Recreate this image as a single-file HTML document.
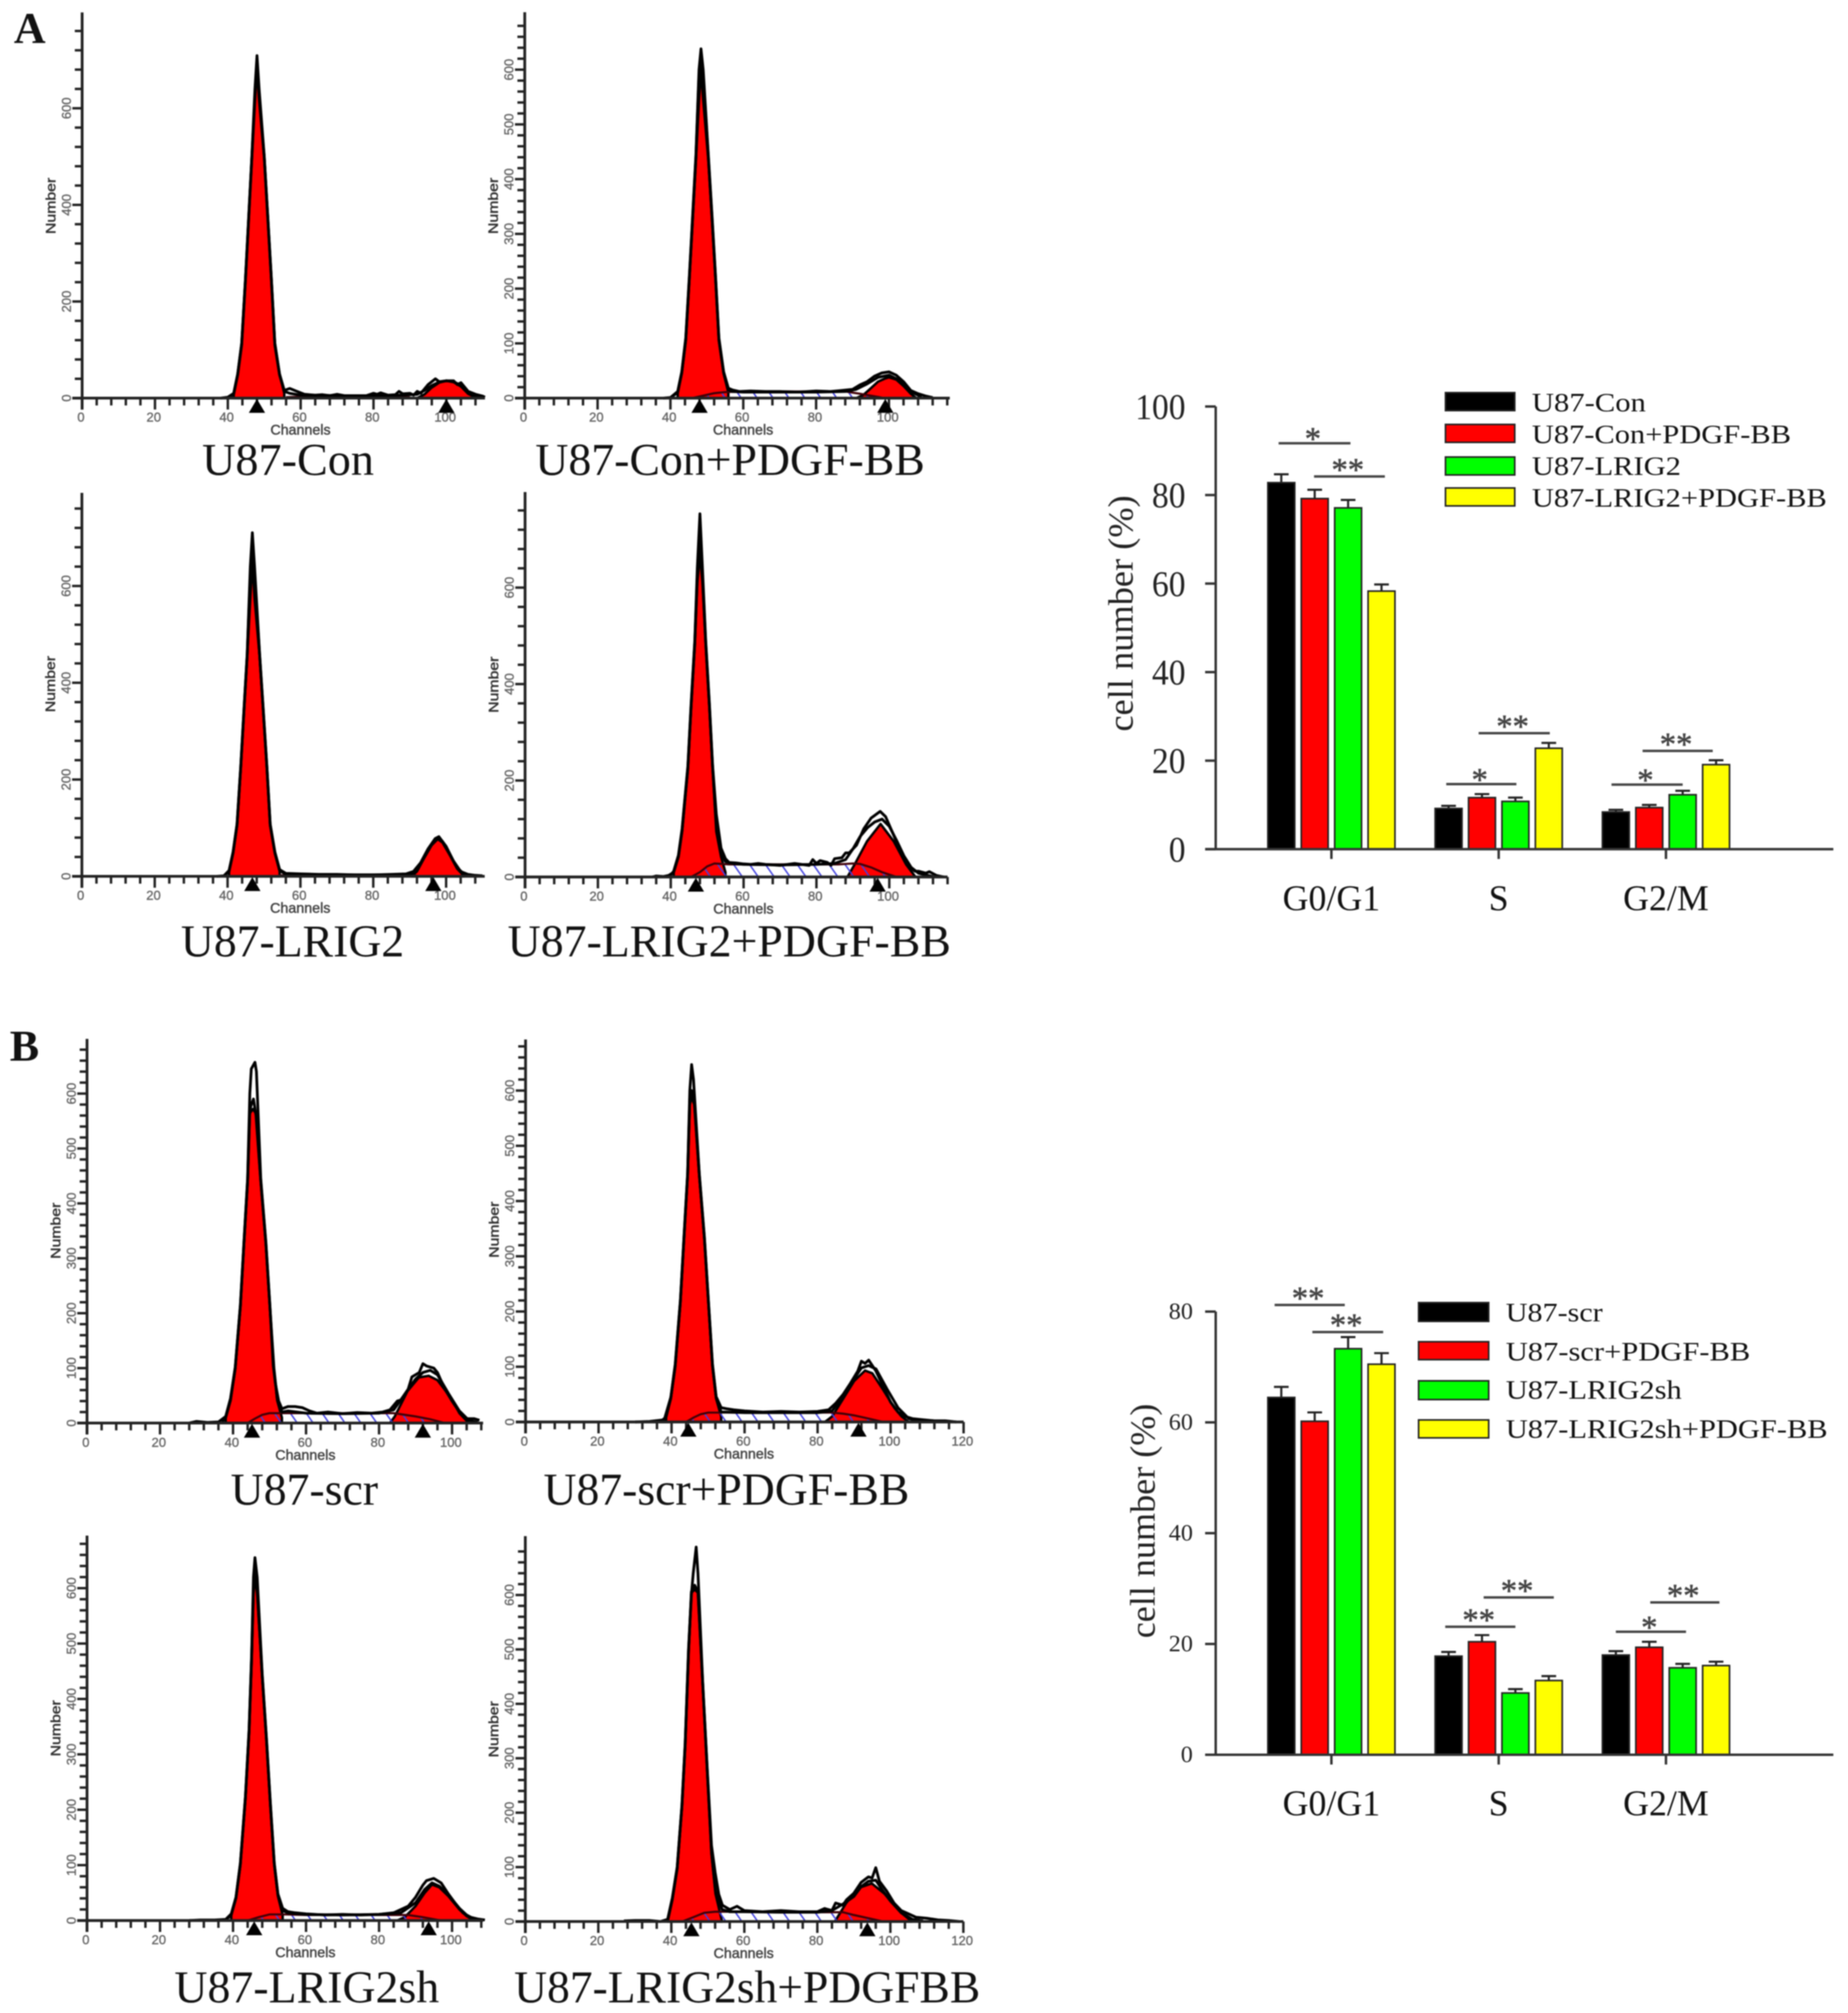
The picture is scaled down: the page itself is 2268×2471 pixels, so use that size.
<!DOCTYPE html>
<html lang="en">
<head>
<meta charset="utf-8">
<title>U87 cell cycle flow cytometry histograms and bar charts</title>
<style>
html,body{margin:0;padding:0;background:#fff;}
#figure{display:block;width:2268px;height:2471px;background:#fff;filter:blur(0.7px);}
.serif{font-family:"Liberation Serif",serif;fill:#111;}
</style>
</head>
<body>
<svg id="figure" width="2268" height="2471" viewBox="0 0 2268 2471">
  <defs>
    <pattern id="hatch" width="16" height="16" patternUnits="userSpaceOnUse" patternTransform="rotate(-35)">
      <line x1="0" y1="0" x2="0" y2="16" stroke="#4040e0" stroke-width="3.6"></line>
    </pattern>
  </defs>
  <rect x="0" y="0" width="2268" height="2471" fill="#fff"></rect>

  <text class="serif" x="17" y="53" font-size="54" font-weight="bold">A</text>
  <text class="serif" x="12" y="1302" font-size="54" font-weight="bold">B</text>

  <text class="serif" x="248" y="583" font-size="56" textLength="211" lengthAdjust="spacingAndGlyphs">U87-Con</text>
  <text class="serif" x="657" y="583" font-size="56" textLength="478" lengthAdjust="spacingAndGlyphs">U87-Con+PDGF-BB</text>
  <text class="serif" x="222" y="1174" font-size="56" textLength="274" lengthAdjust="spacingAndGlyphs">U87-LRIG2</text>
  <text class="serif" x="623" y="1174" font-size="56" textLength="544" lengthAdjust="spacingAndGlyphs">U87-LRIG2+PDGF-BB</text>
  <text class="serif" x="283" y="1847" font-size="56" textLength="181" lengthAdjust="spacingAndGlyphs">U87-scr</text>
  <text class="serif" x="667" y="1847" font-size="56" textLength="449" lengthAdjust="spacingAndGlyphs">U87-scr+PDGF-BB</text>
  <text class="serif" x="214" y="2458" font-size="56" textLength="325" lengthAdjust="spacingAndGlyphs">U87-LRIG2sh</text>
  <text class="serif" x="631" y="2458" font-size="56" textLength="572" lengthAdjust="spacingAndGlyphs">U87-LRIG2sh+PDGFBB</text>

  <g>
    <g>
      <rect x="1774" y="482" width="85" height="22" fill="#000" stroke="#222" stroke-width="2"></rect>
      <text class="serif" x="1880" y="505" font-size="33" textLength="140" lengthAdjust="spacingAndGlyphs">U87-Con</text>
    </g>
    <g>
      <rect x="1774" y="521" width="85" height="22" fill="#ff0000" stroke="#222" stroke-width="2"></rect>
      <text class="serif" x="1880" y="544" font-size="33" textLength="318" lengthAdjust="spacingAndGlyphs">U87-Con+PDGF-BB</text>
    </g>
    <g>
      <rect x="1774" y="561" width="85" height="22" fill="#00ff00" stroke="#222" stroke-width="2"></rect>
      <text class="serif" x="1880" y="583" font-size="33" textLength="183" lengthAdjust="spacingAndGlyphs">U87-LRIG2</text>
    </g>
    <g>
      <rect x="1774" y="599" width="85" height="22" fill="#ffff00" stroke="#222" stroke-width="2"></rect>
      <text class="serif" x="1880" y="622" font-size="33" textLength="362" lengthAdjust="spacingAndGlyphs">U87-LRIG2+PDGF-BB</text>
    </g>
  </g>

  <g>
    <g>
      <rect x="1741" y="1599" width="86" height="23" fill="#000" stroke="#222" stroke-width="2"></rect>
      <text class="serif" x="1848" y="1622" font-size="33" textLength="119" lengthAdjust="spacingAndGlyphs">U87-scr</text>
    </g>
    <g>
      <rect x="1741" y="1647" width="86" height="22" fill="#ff0000" stroke="#222" stroke-width="2"></rect>
      <text class="serif" x="1848" y="1670" font-size="33" textLength="300" lengthAdjust="spacingAndGlyphs">U87-scr+PDGF-BB</text>
    </g>
    <g>
      <rect x="1741" y="1695" width="86" height="23" fill="#00ff00" stroke="#222" stroke-width="2"></rect>
      <text class="serif" x="1848" y="1717" font-size="33" textLength="216" lengthAdjust="spacingAndGlyphs">U87-LRIG2sh</text>
    </g>
    <g>
      <rect x="1741" y="1743" width="86" height="22" fill="#ffff00" stroke="#222" stroke-width="2"></rect>
      <text class="serif" x="1848" y="1765" font-size="33" textLength="395" lengthAdjust="spacingAndGlyphs">U87-LRIG2sh+PDGF-BB</text>
    </g>
  </g>
</svg>

<script>
/* ---------- histogram data (channel, count) ---------- */
const a1G1Ch=[41.6,42.7,43.8,44.8,45.7,46.6,47.45,48,48.6,50,51,52,52.9,54.2,55.5];
const a1G1=[10,50,114,243,372,501,630,690,630,501,372,243,114,50,10];
const a1G2Ch=[92,94,96,98,100,102,104,106,108.4];
const a1G2=[0,8,22,32,36,33,24,9,0];
const a1SCh=[56,60,70,80,90];
const a1S=[2,3,3,3,2];
const a1RawCh=[38,40,41.6,42.7,43.8,44.8,45.7,46.6,47.45,48,48.6,50,51,52,52.9,54.2,55.5,57,59,61,64,66,68,70,72,75,78,80,81,82,84,86,87,88,90,91,92,93,95,97,98,100,102,103,104,106,108,110,110.6];
const a1Raw=[0,2,10,50,114,243,372,501,640,709,640,501,372,243,114,50,16,20,14,8,6,7,5,8,5,4,5,10,8,11,6,7,14,9,10,6,14,10,28,40,34,36,36,28,32,14,8,4,2];
const a1FitCh=[40,41.6,42.7,43.8,44.8,45.7,46.6,47.45,48,48.6,50,51,52,52.9,54.2,55.5,57,60,70,80,88,92,94,96,98,100,102,104,106,108,110];
const a1Fit=[1,8,48,110,240,368,498,620,690,620,498,368,240,110,48,14,10,6,5,5,6,8,16,26,33,36,34,26,12,4,1];
const a1Marks=[48,100];

const a2G1Ch=[42,43.1,44.2,45.2,46.1,47,47.85,48.4,49,50.4,51.4,52.4,53.3,54.6,55.9];
const a2G1=[10,45,105,215,325,435,545,600,545,435,325,215,105,45,10];
const a2G2Ch=[91,93,95,97,99,100,102,104,106,107.5];
const a2G2=[0,6,18,30,36,38,34,22,8,0];
const a2SCh=[46,50,52,55,60,70,80,88,92,98];
const a2S=[0,6,9,11,12,12,12,12,8,1];
const a2RawCh=[38,40,42,43.1,44.2,45.2,46.1,47,47.85,48.4,49,50.4,51.4,52.4,53.3,54.6,55.9,57,59,62,66,70,75,80,84,87,90,92,94,96,98,100,102,104,106,108,110,112];
const a2Raw=[0,1,12,48,110,222,335,445,600,638,600,445,335,222,110,48,18,15,12,13,12,12,11,13,12,14,16,24,30,40,46,48,42,30,14,8,4,1];
const a2FitCh=[40,42,43.1,44.2,45.2,46.1,47,47.85,48.4,49,50.4,51.4,52.4,53.3,54.6,55.9,57,60,70,80,88,91,94,97,100,103,106,109];
const a2Fit=[1,10,46,106,218,330,440,590,624,590,440,330,218,106,46,15,12,11,11,11,12,16,26,38,42,32,12,2];
const a2Marks=[48,99];

const a3G1Ch=[40.4,41.5,42.6,43.6,44.5,45.4,46.25,46.8,47.4,48.8,49.8,50.8,51.7,53,54.3];
const a3G1=[10,48,105,222,340,455,575,650,575,455,340,222,105,48,10];
const a3G2Ch=[90.5,92,94,96,97.7,99,101,103,105];
const a3G2=[0,10,38,64,77,70,44,16,0];
const a3SCh=[54,60,70,80,88,92];
const a3S=[2,3,3,3,3,1];
const a3RawCh=[37,39,40.4,41.5,42.6,43.6,44.5,45.4,46.25,46.8,47.4,48.8,49.8,50.8,51.7,53,54.3,56,60,65,70,75,80,85,89,91,93,95,97,98,100,102,104,106,108,110];
const a3Raw=[0,1,12,50,108,226,345,460,640,710,640,460,345,226,108,50,14,6,5,4,4,3,3,4,5,10,28,56,78,82,62,32,10,4,2,1];
const a3FitCh=[39,40.4,41.5,42.6,43.6,44.5,45.4,46.25,46.8,47.4,48.8,49.8,50.8,51.7,53,54.3,56,70,85,90,92,94,96,97.7,99,101,103,105,107];
const a3Fit=[1,10,48,106,224,342,458,620,680,620,458,342,224,106,48,12,4,3,3,3,12,40,66,79,72,46,18,4,1];
const a3Marks=[46.8,96.5];

const a4G1Ch=[40.8,42.1,43.1,44.7,45.6,46.6,47.3,48,48.7,49.6,50.6,51.5,52.5,53.8,55];
const a4G1=[10,42,94,223,352,481,610,670,610,481,352,223,94,42,10];
const a4G2Ch=[88.5,90.5,93.9,97.6,101.2,104.6,107.2];
const a4G2=[0,26,74,110,74,26,0];
const a4SCh=[45.6,48,50,52,54,56,60,70,80,86,88,90,92,95,98,102];
const a4S=[0,10,22,28,27,26,26,26,26,26,27,28,27,20,10,0];
const a4RawCh=[35,36,38,40,40.8,42.1,43.1,44.7,45.6,46.6,47.3,48,48.7,49.6,50.6,51.5,52.5,53.8,55,56,58,60,62,64,66,70,74,78,79,80,81,83,84,85,87,88,89,91,93,95,97.5,99,101,103,105,107,108,110,111,113,115];
const a4Raw=[0,2,1,4,12,45,100,230,360,490,640,753,640,490,360,230,130,60,38,30,29,27,26,28,26,24,28,24,36,28,34,30,24,38,40,50,50,66,100,122,136,125,90,55,25,12,12,8,11,3,0];
const a4FitCh=[39,40.8,42.1,43.1,44.7,45.6,46.6,47.3,48,48.7,49.6,50.6,51.5,52.5,53.8,55,57,60,70,80,85,88,90,92,94,96,98,100,102,104,106,108,110,112];
const a4Fit=[1,10,42,96,226,355,485,625,700,625,485,355,226,110,50,32,28,26,25,26,28,36,58,84,102,114,120,105,76,44,20,8,4,1];
const a4Marks=[46.9,96.8];

const b1G1Ch=[38,39.3,40.6,42,43,44,44.6,45.4,46.3,47.6,49,50.1,51.2,52.1,53.4];
const b1G1=[10,41,98,211,325,439,564,572,564,439,325,211,98,41,10];
const b1G2Ch=[83,84.3,87.8,90.9,93.6,96,99.7,102,104.6];
const b1G2=[0,12,58,83,86,78,46,18,0];
const b1SCh=[44,46,48,50,52,54,60,70,80,84,87,90,94,98];
const b1S=[0,8,15,18,18,18,18,18,18,18,15,12,7,0];
const b1RawCh=[28,30,33,36,38,39.3,40.6,42,43,44,44.6,45,46,46.4,47.6,49,50.1,51,51.6,52.5,53.4,55,57,59,61,63,66,70,74,78,81,83,85,86,88,89,91,92,93,95,96,98,100,102,104,106,107.5];
const b1Raw=[0,3,1,2,12,45,102,215,330,445,600,645,657,640,445,330,215,105,72,40,26,30,30,28,22,18,20,17,19,18,20,24,40,42,62,84,92,108,104,100,92,62,40,20,8,8,5];
const b1FitCh=[37,38,39.3,40.6,42,43,44,44.6,45,45.6,46.3,47.6,49,50.1,51.2,52.1,53.4,55,60,70,80,84,87,90,92,94,96,99,102,104.6,107];
const b1Fit=[2,10,42,100,213,328,442,570,580,590,560,441,327,213,100,44,20,22,18,17,18,24,52,80,92,96,88,54,22,5,1];
const b1Marks=[45.2,92];

const b2G1Ch=[38.5,39.8,41,42.4,43.4,44.4,45,45.5,46.2,47.6,49,50.1,51.2,52.2,53.6];
const b2G1=[10,42,100,215,330,445,575,588,575,445,330,215,100,42,10];
const b2G2Ch=[82,84,87,90,93,95,98,101,103,105];
const b2G2=[0,10,42,74,93,88,58,26,10,0];
const b2SCh=[44,46,48,50,52,54,60,70,80,84,87,90,94,98];
const b2S=[0,8,14,17,17,17,17,17,17,17,15,12,6,0];
const b2RawCh=[30,34,38,39.8,41,42.4,43.4,44.4,45,45.5,46,47.6,49,50.1,51.2,52.2,53.6,55,57,60,65,70,75,80,83,85,87,89,91,92,93,94,96,98,100,102,104,106,109,112,115,118];
const b2Raw=[0,1,4,45,105,220,335,450,600,647,620,450,335,220,105,46,26,24,22,20,18,19,18,19,22,34,50,70,92,110,106,112,92,64,36,18,10,6,4,2,2,0];
const b2FitCh=[37,38.5,39.8,41,42.4,43.4,44.4,45,45.5,46.2,47.6,49,50.1,51.2,52.2,53.6,55,60,70,80,84,87,90,92,94,96,99,102,105,108];
const b2Fit=[1,9,44,102,218,332,448,585,600,585,448,332,218,102,44,18,18,17,17,17,20,46,78,98,102,96,60,26,6,1];
const b2Marks=[44.6,91.2];

const b3G1Ch=[39.5,40.8,42,43.4,44.4,45.1,45.6,46,46.6,48,49.2,50.2,51.3,52.3,53.6];
const b3G1=[10,40,100,220,340,470,590,620,590,440,320,210,100,44,10];
const b3G2Ch=[85,87,90,92.5,94.5,96.5,99,102,104,106];
const b3G2=[0,6,26,50,65,60,44,20,8,0];
const b3SCh=[44,47,50,52,54,60,70,80,84,88,92,97];
const b3S=[0,6,11,11,11,10,10,10,10,10,6,0];
const b3RawCh=[28,31,35,38,39.5,40.8,42,43.4,44.4,45.1,45.6,46,46.6,48,49.2,50.2,51.3,52.3,53.6,55,57,60,65,70,75,80,84,86,88,90,92,93,95,97,99,101,103,105,107,109];
const b3Raw=[0,1,1,2,12,42,104,224,345,480,620,655,620,445,325,215,104,48,22,16,14,12,10,11,10,11,14,20,26,42,64,72,76,68,48,30,14,6,3,1];
const b3FitCh=[38,39.5,40.8,42,43.4,44.4,45.1,45.6,46,46.6,48,49.2,50.2,51.3,52.3,53.6,55,60,70,80,86,90,92.5,94.5,96.5,99,102,104,106,108];
const b3Fit=[1,10,41,102,222,342,475,600,630,600,442,322,212,102,46,18,14,11,10,11,14,32,56,68,62,46,22,10,3,1];
const b3Marks=[45.8,93.6];

const b4G1Ch=[39,40.3,41.6,42.9,43.8,44.7,45.5,46.4,47.3,48.6,49.9,51,52.1,53.9];
const b4G1=[0,40,96,209,322,492,604,610,604,435,266,124,51,0];
const b4G2Ch=[84.8,87.9,91.4,94.9,98.4,102.8,105.9];
const b4G2=[0,34,62,70,51,17,0];
const b4SCh=[43,46,49,52,55,60,70,80,84,87,90,94,98];
const b4S=[0,8,16,18,18,18,17,17,17,17,12,6,0];
const b4RawCh=[27,30,34,37,39,40.3,41.6,42.9,43.8,44.7,45.5,46,46.8,47.3,48.6,49.9,51,52,53,54,56,58,60,65,70,75,80,82,84,85,87,88,90,92,94,95,96,97,99,101,103,105,107,110,113,116,119];
const b4Raw=[1,2,2,0,4,44,100,214,328,500,600,640,688,640,440,272,140,90,50,30,22,28,20,18,20,18,18,24,20,34,30,40,52,72,82,80,99,74,56,34,20,14,8,6,3,2,0];
const b4FitCh=[38,39,40.3,41.6,42.9,43.8,44.7,45.5,46.4,47.3,48.6,49.9,51,52.1,53.9,56,60,70,80,84,87,90,92,94,96,98,100,103,106,109];
const b4Fit=[1,3,42,98,212,325,495,606,618,606,438,268,128,56,22,18,18,17,17,20,32,46,64,74,76,56,38,16,4,1];
const b4Marks=[45.5,93.7];

const xTickLabels=[0,20,40,60,80,100,120];
const yTicksBy200=[0,200,400,600];
const yTicksBy100=[0,100,200,300,400,500,600];

/* ---------- bar chart data ---------- */
const barCategories=['G0/G1','S','G2/M'];
const barColors=['#000000','#ff0000','#00ff00','#ffff00'];

const chartATicks=[0,20,40,60,80,100];
const chartACon=[82.8,9.2,8.4];
const chartAConPdgf=[79.2,11.65,9.4];
const chartALrig2=[77.1,10.8,12.3];
const chartALrig2Pdgf=[58.3,22.8,19.1];
const chartAConErr=[1.9,0.6,0.5];
const chartAConPdgfErr=[2,0.8,0.6];
const chartALrig2Err=[1.8,0.85,0.9];
const chartALrig2PdgfErr=[1.5,1.2,1];
const chartASigGroup=[0,0,1,1,2,2];
const chartASigFrom=[-0.08,0.98,-0.07,0.9,-0.13,0.8];
const chartASigTo=[2.07,3.1,2.03,3.03,2,2.9];
const chartASigLevel=[91.7,84.2,14.7,26.2,14.6,22.2];
const chartASigLabel=['*','**','*','**','*','**'];

const chartBTicks=[0,20,40,60,80];
const chartBScr=[64.5,17.8,18];
const chartBScrPdgf=[60.2,20.4,19.4];
const chartBLrig2sh=[73.3,11.15,15.7];
const chartBLrig2shPdgf=[70.5,13.4,16.1];
const chartBScrErr=[1.9,0.75,0.7];
const chartBScrPdgfErr=[1.6,1.2,1];
const chartBLrig2shErr=[2.1,0.7,0.7];
const chartBLrig2shPdgfErr=[2,0.8,0.7];
const chartBSigGroup=[0,0,1,1,2,2];
const chartBSigFrom=[-0.2,0.93,-0.1,1.05,0,1.03];
const chartBSigTo=[1.9,3.05,2,3.15,2.1,3.1];
const chartBSigLevel=[81.2,76.3,23.1,28.4,22.2,27.5];
const chartBSigLabel=['**','**','**','**','*','**'];

/* ---------- helpers ---------- */
const SVG_NS='http://www.w3.org/2000/svg';
const root=document.getElementById('figure');
function make(parent,tag,attrs,text){
  const el=document.createElementNS(SVG_NS,tag);
  for(const k in attrs){el.setAttribute(k,attrs[k]);}
  if(text!==undefined){el.textContent=text;}
  parent.appendChild(el);
  return el;
}
function pointsFor(chs,cts,sx,sy){
  return chs.map(function(c,i){return sx(c).toFixed(1)+','+sy(cts[i]).toFixed(1);}).join(' ');
}
function areaFor(chs,cts,sx,sy){
  const base=sx(chs[0]).toFixed(1)+','+sy(0).toFixed(1);
  const end=sx(chs[chs.length-1]).toFixed(1)+','+sy(0).toFixed(1);
  return base+' '+pointsFor(chs,cts,sx,sy)+' '+end;
}

/* ---------- histogram panels ---------- */
function drawHistogram(p){
  const sx=function(c){return p.x0+c*p.kx;};
  const sy=function(v){return p.base-v*p.ky;};
  const g=make(root,'g',{});
  
  

  const sWhite=make(g,'polygon',{points:areaFor(p.sCh,p.s,sx,sy),fill:'#fff'});
  
  

  const g1=make(g,'polygon',{points:areaFor(p.g1Ch,p.g1,sx,sy),fill:'#ff0000',stroke:'#000','stroke-width':3,'stroke-linejoin':'round'});
  
  

  const g2=make(g,'polygon',{points:areaFor(p.g2Ch,p.g2,sx,sy),fill:'#ff0000',stroke:'#000','stroke-width':3,'stroke-linejoin':'round'});
  
  

  const sHatch=make(g,'polygon',{points:areaFor(p.sCh,p.s,sx,sy),fill:'url(#hatch)','fill-opacity':1});
  
  

  const sLine=make(g,'polyline',{points:pointsFor(p.sCh,p.s,sx,sy),fill:'none',stroke:'#400008','stroke-width':2.6});
  
  

  const fit=make(g,'polyline',{points:pointsFor(p.fitCh,p.fit,sx,sy),fill:'none',stroke:'#000','stroke-width':3.4,'stroke-linejoin':'round'});
  
  

  const raw=make(g,'polyline',{points:pointsFor(p.rawCh,p.raw,sx,sy),fill:'none',stroke:'#000','stroke-width':3.4,'stroke-linejoin':'round'});
  
  

  const axisY=make(g,'line',{x1:p.x0,y1:p.top,x2:p.x0,y2:p.base+14,stroke:'#222','stroke-width':3.4});
  
  

  const axisX=make(g,'line',{x1:p.x0-12,y1:p.base,x2:sx(p.xMax),y2:p.base,stroke:'#222','stroke-width':3.4});
  
  

  for(let c=0;c<=p.xMax;c+=4){
    const major=c%20===0;
    const tick=make(g,'line',{x1:sx(c),y1:p.base,x2:sx(c),y2:p.base+(major?14:9),stroke:'#222','stroke-width':3});
    
    
  }
  for(let v=0;sy(v)>=p.top+8;v+=p.yMinor){
    const major=p.yLabels.indexOf(v)>=0;
    const tick=make(g,'line',{x1:p.x0-(major?12:9),y1:sy(v),x2:p.x0,y2:sy(v),stroke:'#222','stroke-width':3});
    
    
  }
  xTickLabels.forEach(function(t){
    if(t>p.xMax){return;}
    const lab=make(g,'text',{x:sx(t)-1.5,y:p.base+29,'text-anchor':'middle','font-size':16,fill:'#666',stroke:'#666','stroke-width':0.4,'font-family':'"Liberation Sans",sans-serif'},String(t));
    
    
  });
  p.yLabels.forEach(function(t){
    const lx=p.x0-14;
    const lab=make(g,'text',{x:lx,y:sy(t),transform:'rotate(-90 '+lx+' '+sy(t)+')','text-anchor':'middle','font-size':16,fill:'#666',stroke:'#666','stroke-width':0.4,'font-family':'"Liberation Sans",sans-serif'},String(t));
    
    
  });
  const xt=make(g,'text',{x:p.x0+268,y:p.base+45,'text-anchor':'middle','font-size':17.5,fill:'#444',stroke:'#444','stroke-width':0.5,'font-family':'"Liberation Sans",sans-serif'},'Channels');
  
  

  const ny=p.base-236;
  const nx=p.x0-33;
  const yt=make(g,'text',{x:nx,y:ny,transform:'rotate(-90 '+nx+' '+ny+')','text-anchor':'middle','font-size':16.5,textLength:69,lengthAdjust:'spacingAndGlyphs',fill:'#333',stroke:'#333','stroke-width':0.5,'font-family':'"Liberation Sans",sans-serif'},'Number');
  
  

  p.marks.forEach(function(c){
    const mx=sx(c);
    const y0=p.base+1;
    const tri=make(g,'polygon',{points:mx+','+y0+' '+(mx+10)+','+(y0+17)+' '+(mx-10)+','+(y0+17),fill:'#000'});
    
    
  });
}

const panels=[
 {name:'u87-con',x0:100.8,base:488.7,top:15.3,kx:4.47,ky:0.593,xMax:110.6,yMinor:40,yLabels:yTicksBy200,g1Ch:a1G1Ch,g1:a1G1,g2Ch:a1G2Ch,g2:a1G2,sCh:a1SCh,s:a1S,rawCh:a1RawCh,raw:a1Raw,fitCh:a1FitCh,fit:a1Fit,marks:a1Marks},
 {name:'u87-con-pdgf-bb',x0:644,base:488.7,top:15,kx:4.47,ky:0.672,xMax:116.7,yMinor:20,yLabels:yTicksBy100,g1Ch:a2G1Ch,g1:a2G1,g2Ch:a2G2Ch,g2:a2G2,sCh:a2SCh,s:a2S,rawCh:a2RawCh,raw:a2Raw,fitCh:a2FitCh,fit:a2Fit,marks:a2Marks},
 {name:'u87-lrig2',x0:100.5,base:1075.7,top:605,kx:4.47,ky:0.594,xMax:110.6,yMinor:40,yLabels:yTicksBy200,g1Ch:a3G1Ch,g1:a3G1,g2Ch:a3G2Ch,g2:a3G2,sCh:a3SCh,s:a3S,rawCh:a3RawCh,raw:a3Raw,fitCh:a3FitCh,fit:a3Fit,marks:a3Marks},
 {name:'u87-lrig2-pdgf-bb',x0:644.4,base:1076.5,top:604,kx:4.47,ky:0.592,xMax:116,yMinor:40,yLabels:yTicksBy200,g1Ch:a4G1Ch,g1:a4G1,g2Ch:a4G2Ch,g2:a4G2,sCh:a4SCh,s:a4S,rawCh:a4RawCh,raw:a4Raw,fitCh:a4FitCh,fit:a4Fit,marks:a4Marks},
 {name:'u87-scr',x0:106.8,base:1746.8,top:1275.3,kx:4.48,ky:0.674,xMax:108.5,yMinor:20,yLabels:yTicksBy100,g1Ch:b1G1Ch,g1:b1G1,g2Ch:b1G2Ch,g2:b1G2,sCh:b1SCh,s:b1S,rawCh:b1RawCh,raw:b1Raw,fitCh:b1FitCh,fit:b1Fit,marks:b1Marks},
 {name:'u87-scr-pdgf-bb',x0:645,base:1745.5,top:1276,kx:4.48,ky:0.678,xMax:120,yMinor:20,yLabels:yTicksBy100,g1Ch:b2G1Ch,g1:b2G1,g2Ch:b2G2Ch,g2:b2G2,sCh:b2SCh,s:b2S,rawCh:b2RawCh,raw:b2Raw,fitCh:b2FitCh,fit:b2Fit,marks:b2Marks},
 {name:'u87-lrig2sh',x0:106.8,base:2357.5,top:1885,kx:4.48,ky:0.68,xMax:108.5,yMinor:20,yLabels:yTicksBy100,g1Ch:b3G1Ch,g1:b3G1,g2Ch:b3G2Ch,g2:b3G2,sCh:b3SCh,s:b3S,rawCh:b3RawCh,raw:b3Raw,fitCh:b3FitCh,fit:b3Fit,marks:b3Marks},
 {name:'u87-lrig2sh-pdgfbb',x0:644.7,base:2358.7,top:1885.6,kx:4.48,ky:0.668,xMax:120,yMinor:20,yLabels:yTicksBy100,g1Ch:b4G1Ch,g1:b4G1,g2Ch:b4G2Ch,g2:b4G2,sCh:b4SCh,s:b4S,rawCh:b4RawCh,raw:b4Raw,fitCh:b4FitCh,fit:b4Fit,marks:b4Marks}
];
panels.forEach(drawHistogram);

/* ---------- bar charts ---------- */
function drawBars(c){
  const sy=function(v){return c.base-v*c.ky;};
  const barX=function(group,bar){return 1556+group*205.3+bar*41;};
  const g=make(root,'g',{});
  
  

  c.series.forEach(function(values,s){
    values.forEach(function(v,i){
      const x=barX(i,s);
      const cx=x+16.5;
      const top=sy(v);
      const err=sy(v+c.errors[s][i]);
      const stem=make(g,'line',{x1:cx,y1:top,x2:cx,y2:err,stroke:'#222','stroke-width':2.6});
      
      
      const cap=make(g,'line',{x1:cx-9,y1:err,x2:cx+9,y2:err,stroke:'#222','stroke-width':2.6});
      
      
      const bar=make(g,'rect',{x:x,y:top,width:33,height:c.base-top,fill:barColors[s],stroke:'#222','stroke-width':2});
      
      
    });
  });

  const yAxis=make(g,'line',{x1:1492,y1:sy(c.ticks[c.ticks.length-1]),x2:1492,y2:c.base,stroke:'#333','stroke-width':3});
  
  
  const xAxis=make(g,'line',{x1:1479,y1:c.base,x2:2250,y2:c.base,stroke:'#333','stroke-width':3});
  
  

  c.ticks.forEach(function(t){
    const tick=make(g,'line',{x1:1479,y1:sy(t),x2:1492,y2:sy(t),stroke:'#333','stroke-width':3});
    
    
    const lab=make(g,'text',{x:c.tickRight,y:sy(t)+c.tickDy,'text-anchor':'end','font-size':c.tickSize,textLength:String(t).length*c.digitW,lengthAdjust:'spacingAndGlyphs',fill:'#222','font-family':'"Liberation Serif",serif'},String(t));
    
    
  });

  barCategories.forEach(function(name,i){
    const cx=barX(i,0)+78;
    const tick=make(g,'line',{x1:cx,y1:c.base,x2:cx,y2:c.base+12,stroke:'#333','stroke-width':3});
    
    
    const lab=make(g,'text',{x:cx,y:c.labelY,'text-anchor':'middle','font-size':44,fill:'#111','font-family':'"Liberation Serif",serif'},name);
    
    
  });

  const ty=c.titleY;
  const title=make(g,'text',{x:c.titleX,y:ty,transform:'rotate(-90 '+c.titleX+' '+ty+')','text-anchor':'middle','font-size':43,textLength:c.titleLen,lengthAdjust:'spacingAndGlyphs',fill:'#222','font-family':'"Liberation Serif",serif'},'cell number (%)');
  
  

  c.sigLevel.forEach(function(level,k){
    const origin=barX(c.sigGroup[k],0)+16.5;
    const x1=origin+c.sigFrom[k]*41;
    const x2=origin+c.sigTo[k]*41;
    const y=sy(level);
    const line=make(g,'line',{x1:x1,y1:y,x2:x2,y2:y,stroke:'#444','stroke-width':3});
    
    
    const isDouble=c.sigLabel[k].length>1;
    const star=make(g,'text',{x:(x1+x2)/2-2,y:y+(isDouble?5:8),'text-anchor':'middle','font-size':40,fill:'#444',stroke:'#444','stroke-width':0.6,'font-family':'"Liberation Serif",serif'},c.sigLabel[k]);
    
    
  });
}

drawBars({name:'a',base:1042.4,ky:5.434,ticks:chartATicks,tickRight:1455,tickDy:15,tickSize:44,digitW:20.6,labelY:1117,titleX:1390,titleY:753,titleLen:290,
  series:[chartACon,chartAConPdgf,chartALrig2,chartALrig2Pdgf],
  errors:[chartAConErr,chartAConPdgfErr,chartALrig2Err,chartALrig2PdgfErr],
  sigGroup:chartASigGroup,sigFrom:chartASigFrom,sigTo:chartASigTo,sigLevel:chartASigLevel,sigLabel:chartASigLabel});
drawBars({name:'b',base:2154,ky:6.8,ticks:chartBTicks,tickRight:1464,tickDy:9,tickSize:29,digitW:14.8,labelY:2228,titleX:1417,titleY:1867,titleLen:288,
  series:[chartBScr,chartBScrPdgf,chartBLrig2sh,chartBLrig2shPdgf],
  errors:[chartBScrErr,chartBScrPdgfErr,chartBLrig2shErr,chartBLrig2shPdgfErr],
  sigGroup:chartBSigGroup,sigFrom:chartBSigFrom,sigTo:chartBSigTo,sigLevel:chartBSigLevel,sigLabel:chartBSigLabel});
</script>
</body>
</html>
